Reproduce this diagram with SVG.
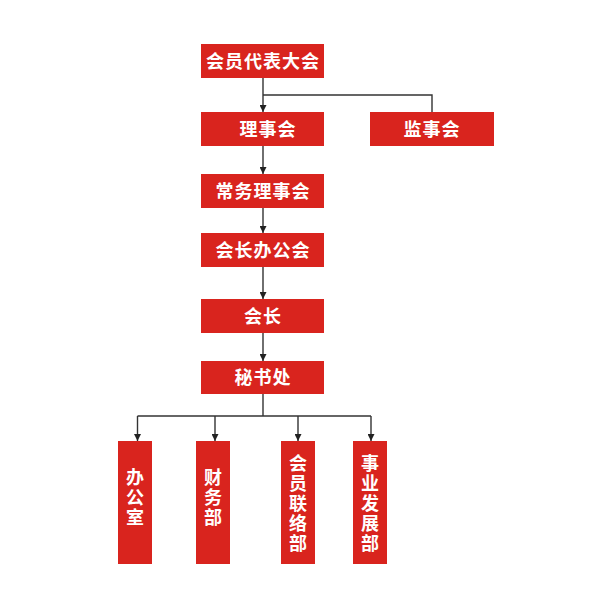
<svg xmlns="http://www.w3.org/2000/svg" width="600" height="608" viewBox="0 0 600 608">
<style>
.box{fill:#d9241e;}
.t{fill:#fff;font-family:"Noto Sans CJK SC","Noto Sans",sans-serif;font-weight:bold;font-size:18px;text-anchor:middle;letter-spacing:1px;}
.v{fill:#fff;font-family:"Noto Sans CJK SC","Noto Sans",sans-serif;font-weight:bold;font-size:18px;text-anchor:middle;letter-spacing:2px;writing-mode:vertical-rl;text-orientation:upright;}
.c{fill:none;stroke:#333;stroke-width:1.4;}
</style>
<defs>
<marker id="ah" viewBox="0 0 10 10" refX="10" refY="5" markerWidth="7" markerHeight="7" markerUnits="userSpaceOnUse" orient="auto">
<path d="M0,0 L10,5 L0,10 Z" fill="#222"/>
</marker>
</defs>
<rect width="600" height="608" fill="#fff"/>
<g id="connectors">
<path class="c" d="M263,78 V112" marker-end="url(#ah)"/>
<path class="c" d="M263,95 H432 V112"/>
<path class="c" d="M263,146 V174" marker-end="url(#ah)"/>
<path class="c" d="M263,208 V233" marker-end="url(#ah)"/>
<path class="c" d="M263,267 V299" marker-end="url(#ah)"/>
<path class="c" d="M263,333 V361" marker-end="url(#ah)"/>
<path class="c" d="M263,394 V416"/>
<path class="c" d="M137.5,416 H371"/>
<path class="c" d="M137.5,416 V441" marker-end="url(#ah)"/>
<path class="c" d="M215,416 V441" marker-end="url(#ah)"/>
<path class="c" d="M298,416 V441" marker-end="url(#ah)"/>
<path class="c" d="M371,416 V441" marker-end="url(#ah)"/>
</g>
<g id="n1"><rect class="box" x="201" y="44" width="123" height="34"/><text class="t" x="263" y="67.5">会员代表大会</text></g>
<g id="n2"><rect class="box" x="201" y="112" width="123" height="34"/><text class="t" x="268" y="135.5">理事会</text></g>
<g id="n3"><rect class="box" x="370" y="112" width="124" height="34"/><text class="t" x="432" y="135.5">监事会</text></g>
<g id="n4"><rect class="box" x="201" y="174" width="123" height="34"/><text class="t" x="263" y="197.5">常务理事会</text></g>
<g id="n5"><rect class="box" x="201" y="233" width="123" height="34"/><text class="t" x="263" y="256.5">会长办公会</text></g>
<g id="n6"><rect class="box" x="201" y="299" width="123" height="34"/><text class="t" x="263" y="322.5">会长</text></g>
<g id="n7"><rect class="box" x="201" y="361" width="123" height="33"/><text class="t" x="263" y="384">秘书处</text></g>
<g id="n8"><rect class="box" x="118" y="441" width="34" height="123"/><text class="v" x="135" y="498">办公室</text></g>
<g id="n9"><rect class="box" x="196" y="441" width="34" height="123"/><text class="v" x="213" y="498">财务部</text></g>
<g id="n10"><rect class="box" x="281" y="441" width="34" height="123"/><text class="v" x="298" y="504">会员联络部</text></g>
<g id="n11"><rect class="box" x="353" y="441" width="34" height="123"/><text class="v" x="370" y="504">事业发展部</text></g>
</svg>
